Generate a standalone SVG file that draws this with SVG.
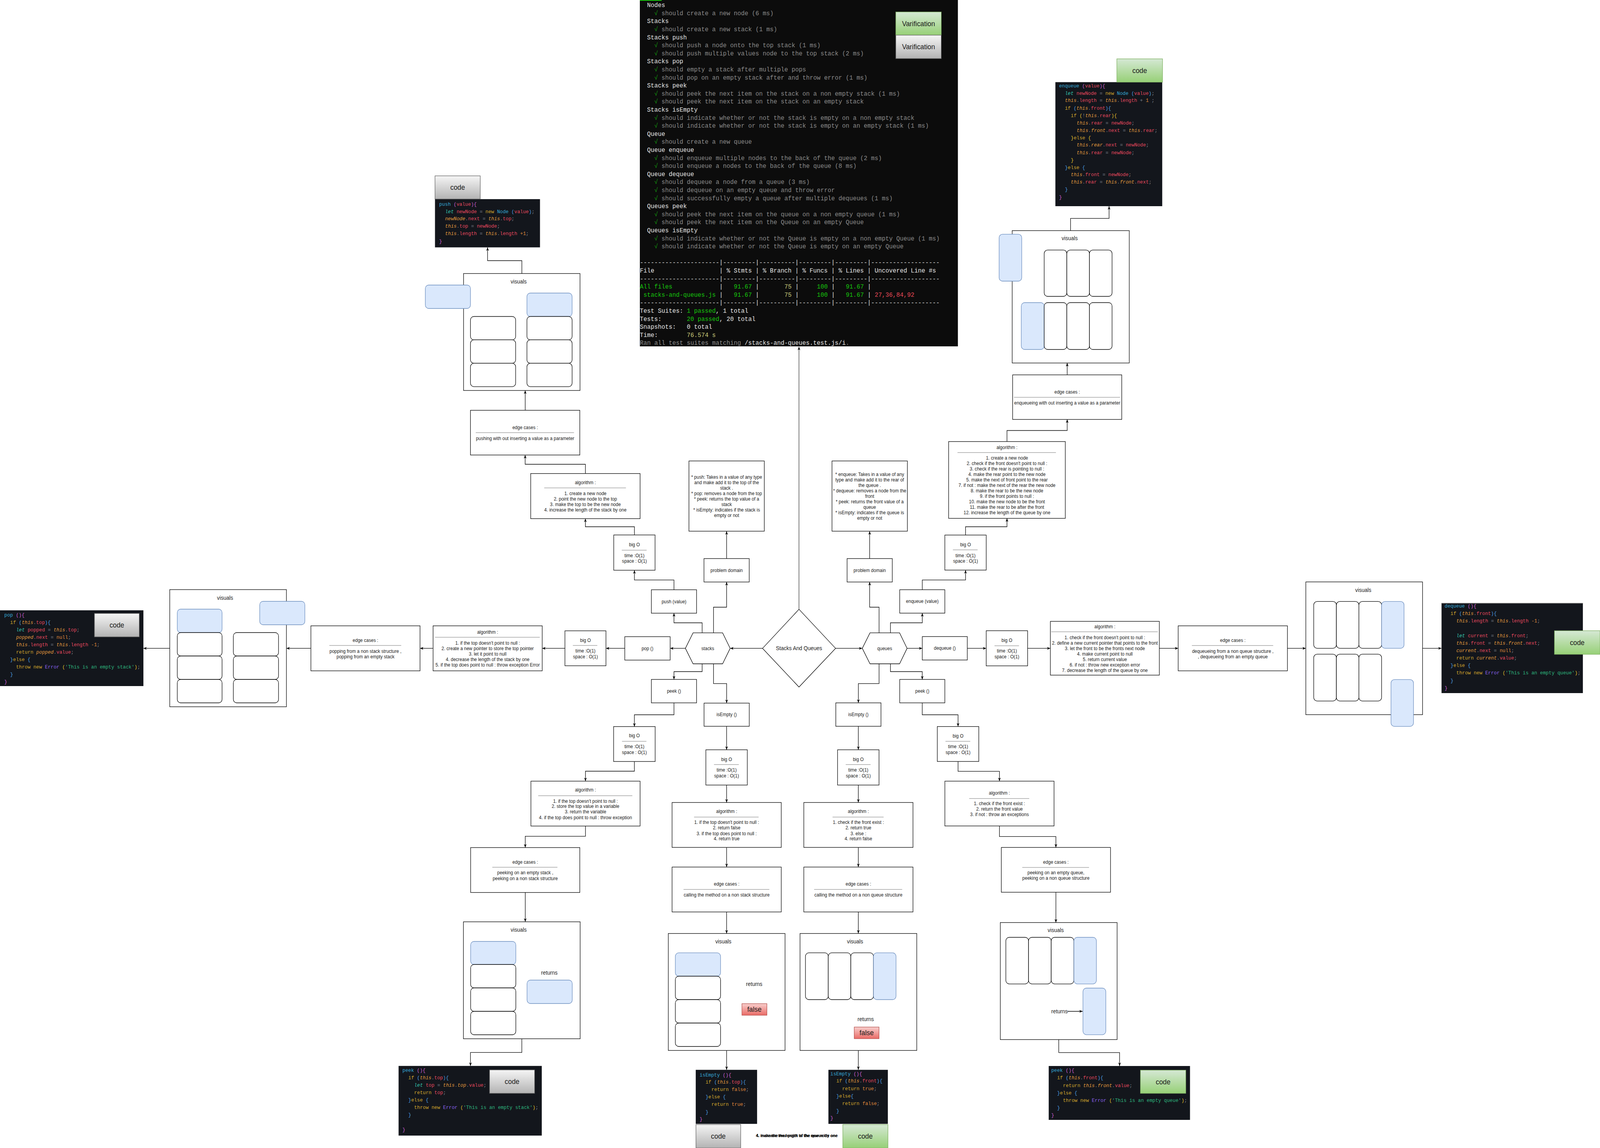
<svg xmlns="http://www.w3.org/2000/svg" width="4251" height="2940" viewBox="0 0 4251 2940" xml:space="preserve">
<style>
text{white-space:pre}
.bx{fill:#fff;stroke:#000;stroke-width:1.3}
.rw{fill:#fff;stroke:#000;stroke-width:1.3}
.bl{fill:#dae8fc;stroke:#6c8ebf;stroke-width:1.3}
.hr{stroke:#a3a3a3;stroke-width:1.5}
.t12{font-family:"Liberation Sans",Arial,sans-serif;font-size:12px;fill:#1a1a1a;text-anchor:middle}
.t14{font-family:"Liberation Sans",Arial,sans-serif;font-size:14px;fill:#1a1a1a;text-anchor:middle}
.t18{font-family:"Liberation Sans",Arial,sans-serif;font-size:18px;fill:#1a1a1a;text-anchor:middle}
.cn{fill:none;stroke:#000;stroke-width:1.3;marker-end:url(#ah)}
.cb{fill:#13161c}
.gbtn{fill:url(#gg);stroke:#666;stroke-width:1.3}
.grn{fill:url(#gr);stroke:#82b366;stroke-width:1.3}
.cd{font-family:"Liberation Mono","Courier New",monospace;font-size:12.8px;fill:#abb2bf}
.k{fill:#d4a72c}.f{fill:#35a9d9}.m{fill:#cf5fd6}.bb{fill:#4c9fe6}.y{fill:#e5c02a}.v{fill:#e8485e}
.i{fill:#e59a3c;font-style:italic}.l{fill:#35c9b0;font-style:italic}.o{fill:#7d838d}.n{fill:#e0883a}.s{fill:#2db57c}.e{fill:#8b62f3}
.tm{font-family:"Liberation Mono","DejaVu Sans Mono",monospace;font-size:16px}
.tw{fill:#e6e6e6}.tg{fill:#8a8a8a}.tc{fill:#13a10e}.tG{fill:#16c60c}.ty{fill:#c8c878}.tr{fill:#e74856}
</style>
<defs>
<marker id="ah" viewBox="0 0 10 10" refX="10" refY="5" markerWidth="9" markerHeight="9" markerUnits="userSpaceOnUse" orient="auto"><path d="M0,1 L10,5 L0,9 L3,5 z" fill="#000"/></marker>
<linearGradient id="gg" x1="0" y1="0" x2="0" y2="1"><stop offset="0" stop-color="#f5f5f5"/><stop offset="1" stop-color="#b3b3b3"/></linearGradient>
<linearGradient id="gr" x1="0" y1="0" x2="0" y2="1"><stop offset="0" stop-color="#d5e8d4"/><stop offset="1" stop-color="#97d077"/></linearGradient>
<linearGradient id="rd" x1="0" y1="0" x2="0" y2="1"><stop offset="0" stop-color="#f8cecc"/><stop offset="1" stop-color="#ea6b66"/></linearGradient>
</defs>
<rect width="4251" height="2940" fill="#fff"/>
<g id="diagram" transform="scale(0.963538,1)">

<g id="terminal">
<rect x="1700" y="0" width="845" height="887" fill="#0c0c0c"/>
<rect x="1700" y="0" width="58" height="2" fill="#16c60c"/>
<g class="tm">
<text x="1719.2" y="18.2" class="tw">Nodes</text>
<text x="1738.4" y="38.8"><tspan class="tc">√</tspan><tspan class="tg"> should create a new node (6 ms)</tspan></text>
<text x="1719.2" y="59.4" class="tw">Stacks</text>
<text x="1738.4" y="80"><tspan class="tc">√</tspan><tspan class="tg"> should create a new stack (1 ms)</tspan></text>
<text x="1719.2" y="100.6" class="tw">Stacks push</text>
<text x="1738.4" y="121.2"><tspan class="tc">√</tspan><tspan class="tg"> should push a node onto the top stack (1 ms)</tspan></text>
<text x="1738.4" y="141.8"><tspan class="tc">√</tspan><tspan class="tg"> should push multiple values node to the top stack (2 ms)</tspan></text>
<text x="1719.2" y="162.4" class="tw">Stacks pop</text>
<text x="1738.4" y="183"><tspan class="tc">√</tspan><tspan class="tg"> should empty a stack after multiple pops</tspan></text>
<text x="1738.4" y="203.6"><tspan class="tc">√</tspan><tspan class="tg"> should pop on an empty stack after and throw error (1 ms)</tspan></text>
<text x="1719.2" y="224.2" class="tw">Stacks peek</text>
<text x="1738.4" y="244.8"><tspan class="tc">√</tspan><tspan class="tg"> should peek the next item on the stack on a non empty stack (1 ms)</tspan></text>
<text x="1738.4" y="265.4"><tspan class="tc">√</tspan><tspan class="tg"> should peek the next item on the stack on an empty stack</tspan></text>
<text x="1719.2" y="286" class="tw">Stacks isEmpty</text>
<text x="1738.4" y="306.6"><tspan class="tc">√</tspan><tspan class="tg"> should indicate whether or not the stack is empty on a non empty stack</tspan></text>
<text x="1738.4" y="327.2"><tspan class="tc">√</tspan><tspan class="tg"> should indicate whether or not the stack is empty on an empty stack (1 ms)</tspan></text>
<text x="1719.2" y="347.8" class="tw">Queue</text>
<text x="1738.4" y="368.4"><tspan class="tc">√</tspan><tspan class="tg"> should create a new queue</tspan></text>
<text x="1719.2" y="389" class="tw">Queue enqueue</text>
<text x="1738.4" y="409.6"><tspan class="tc">√</tspan><tspan class="tg"> should enqueue multiple nodes to the back of the queue (2 ms)</tspan></text>
<text x="1738.4" y="430.2"><tspan class="tc">√</tspan><tspan class="tg"> should enqueue a nodes to the back of the queue (8 ms)</tspan></text>
<text x="1719.2" y="450.8" class="tw">Queue dequeue</text>
<text x="1738.4" y="471.4"><tspan class="tc">√</tspan><tspan class="tg"> should dequeue a node from a queue (3 ms)</tspan></text>
<text x="1738.4" y="492"><tspan class="tc">√</tspan><tspan class="tg"> should dequeue on an empty queue and throw error</tspan></text>
<text x="1738.4" y="512.6"><tspan class="tc">√</tspan><tspan class="tg"> should successfully empty a queue after multiple dequeues (1 ms)</tspan></text>
<text x="1719.2" y="533.2" class="tw">Queues peek</text>
<text x="1738.4" y="553.8"><tspan class="tc">√</tspan><tspan class="tg"> should peek the next item on the queue on a non empty queue (1 ms)</tspan></text>
<text x="1738.4" y="574.4"><tspan class="tc">√</tspan><tspan class="tg"> should peek the next item on the Queue on an empty Queue</tspan></text>
<text x="1719.2" y="595" class="tw">Queues isEmpty</text>
<text x="1738.4" y="615.6"><tspan class="tc">√</tspan><tspan class="tg"> should indicate whether or not the Queue is empty on a non empty Queue (1 ms)</tspan></text>
<text x="1738.4" y="636.2"><tspan class="tc">√</tspan><tspan class="tg"> should indicate whether or not the Queue is empty on an empty Queue</tspan></text>
<text x="1700" y="677.4" class="tw">----------------------|---------|----------|---------|---------|-------------------</text>
<text x="1700" y="698" class="tw">File                  | % Stmts | % Branch | % Funcs | % Lines | Uncovered Line #s </text>
<text x="1700" y="718.6" class="tw">----------------------|---------|----------|---------|---------|-------------------</text>
<text x="1700" y="739.2"><tspan class="tG">All files             </tspan><tspan class="tw">|</tspan><tspan class="tG">   91.67 </tspan><tspan class="tw">|</tspan><tspan class="ty">       75 </tspan><tspan class="tw">|</tspan><tspan class="tG">     100 </tspan><tspan class="tw">|</tspan><tspan class="tG">   91.67 </tspan><tspan class="tw">|</tspan></text>
<text x="1700" y="759.8"><tspan class="tG"> stacks-and-queues.js </tspan><tspan class="tw">|</tspan><tspan class="tG">   91.67 </tspan><tspan class="tw">|</tspan><tspan class="ty">       75 </tspan><tspan class="tw">|</tspan><tspan class="tG">     100 </tspan><tspan class="tw">|</tspan><tspan class="tG">   91.67 </tspan><tspan class="tw">| </tspan><tspan class="tr">27,36,84,92</tspan></text>
<text x="1700" y="780.4" class="tw">----------------------|---------|----------|---------|---------|-------------------</text>
<text x="1700" y="801"><tspan class="tw">Test Suites: </tspan><tspan class="tG">1 passed</tspan><tspan class="tw">, 1 total</tspan></text>
<text x="1700" y="821.6"><tspan class="tw">Tests:       </tspan><tspan class="tG">20 passed</tspan><tspan class="tw">, 20 total</tspan></text>
<text x="1700" y="842.2" class="tw">Snapshots:   0 total</text>
<text x="1700" y="862.8"><tspan class="tw">Time:        </tspan><tspan class="ty">76.574 s</tspan></text>
<text x="1700" y="883.4"><tspan class="tg">Ran all test suites matching </tspan><tspan class="tw">/stacks-and-queues.test.js/i</tspan><tspan class="tg">.</tspan></text>
</g>
</g>
<g id="varification-green"><rect x="2380" y="30.7" width="120.8" height="59.3" class="grn"/><text x="2440.4" y="66.6" class="t18">Varification</text></g>
<g id="varification-gray"><rect x="2380" y="90" width="120.8" height="60" class="gbtn"/><text x="2440.4" y="126.3" class="t18">Varification</text></g>

<g id="connectors">
<path class="cn" d="M2026,1660.4 H1940"/>
<path class="cn" d="M2220,1660.4 H2291"/>
<path class="cn" style="stroke:#555;stroke-width:1.6" d="M2122.8,1560.4 V888"/>
<path class="cn" d="M1821,1660.4 H1780.5"/>
<path class="cn" d="M1660,1660.4 H1610"/>
<path class="cn" d="M1501,1660.4 H1440.6"/>
<path class="cn" d="M1150.6,1660.4 H1116"/>
<path class="cn" d="M826,1660.4 H761"/>
<path class="cn" d="M451,1660.4 H381"/>
<path class="cn" d="M1865.5,1620.7 V1595 H1790.7 V1570.3"/>
<path class="cn" d="M1790.7,1510.4 V1485.4 H1685.6 V1460.4"/>
<path class="cn" d="M1685.6,1370 V1349 H1555.3 V1328.3"/>
<path class="cn" d="M1555.3,1212.7 V1189 H1395.3 V1165.3"/>
<path class="cn" d="M1395.4,1050.7 V1000"/>
<path class="cn" d="M1386.5,700.5 V667.5 H1295.4 V633.5"/>
<path class="cn" d="M1895.7,1620.7 V1555 H1930.5 V1490.4"/>
<path class="cn" d="M1930.5,1430.5 V1360.4"/>
<path class="cn" d="M1865.5,1700 V1720 H1790.7 V1740"/>
<path class="cn" d="M1790.7,1800 V1830.5 H1685.5 V1860.7"/>
<path class="cn" d="M1685.5,1950.2 V1975 H1555.5 V2000.5"/>
<path class="cn" d="M1555.5,2115.5 V2141.6 H1395.5 V2170.6"/>
<path class="cn" d="M1395.5,2285.6 V2360.7"/>
<path class="cn" d="M1386.4,2660.3 V2695.4 H1250 V2729.8"/>
<path class="cn" d="M1895.7,1700 V1750.6 H1930.6 V1800.6"/>
<path class="cn" d="M1930.5,1860 V1920.2"/>
<path class="cn" d="M1930.5,2010.5 V2055.2"/>
<path class="cn" d="M1930.5,2170.2 V2220.5"/>
<path class="cn" d="M1930.5,2335.5 V2390.6"/>
<path class="cn" d="M1930.5,2690.2 V2739.8"/>
<path class="cn" d="M2335.6,1620.7 V1555 H2310.6 V1490.4"/>
<path class="cn" d="M2310.6,1430.5 V1360.4"/>
<path class="cn" d="M2365.8,1620.7 V1595 H2450.4 V1570.3"/>
<path class="cn" d="M2450.4,1510.3 V1485.3 H2565.3 V1460"/>
<path class="cn" d="M2565.3,1370.3 V1349 H2675.4 V1327.5"/>
<path class="cn" d="M2675.4,1130.8 V1102.5 H2835.4 V1074.2"/>
<path class="cn" d="M2835.4,960 V929.6"/>
<path class="cn" d="M2844.3,590.6 V559.3 H2946.7 V528"/>
<path class="cn" d="M2410,1660.4 H2450.4"/>
<path class="cn" d="M2570,1660.4 H2620.2"/>
<path class="cn" d="M2730.2,1660.4 H2790.7"/>
<path class="cn" d="M3080.2,1660.4 H3130.3"/>
<path class="cn" d="M3420.5,1660.4 H3469.4"/>
<path class="cn" d="M3779.5,1660.4 H3830"/>
<path class="cn" d="M2335.6,1700 V1750.6 H2280.6 V1800"/>
<path class="cn" d="M2280.5,1860 V1920.2"/>
<path class="cn" d="M2280.5,2010.5 V2055.2"/>
<path class="cn" d="M2280.5,2170.2 V2220.5"/>
<path class="cn" d="M2280.5,2335.5 V2390.6"/>
<path class="cn" d="M2280.5,2690.2 V2739.8"/>
<path class="cn" d="M2365.8,1700 V1720 H2450.3 V1740"/>
<path class="cn" d="M2450.3,1800 V1830.5 H2545.4 V1860.6"/>
<path class="cn" d="M2545.4,1950.1 V1975.3 H2655.4 V2000.5"/>
<path class="cn" d="M2655.4,2115.3 V2142.4 H2805.4 V2170.3"/>
<path class="cn" d="M2805.4,2285 V2362.6"/>
<path class="cn" d="M2813,2662.4 V2695.6 H2974.6 V2730"/>
</g>

<g id="center-diamond"><polygon points="2122.8,1560.4 2220,1660.4 2122.8,1759.5 2026,1660.4" class="bx"/><text x="2122.8" y="1665.2" class="t14">Stacks And Queues</text></g>
<g id="hex-stacks"><polygon points="1821,1660.4 1841.4,1620.7 1919.8,1620.7 1940,1660.4 1919.8,1700 1841.4,1700" class="bx"/><text x="1880.5" y="1664.6" class="t12">stacks</text></g>
<g id="hex-queues"><polygon points="2291,1660.4 2311.5,1620.7 2390,1620.7 2410,1660.4 2390,1700 2311.5,1700" class="bx"/><text x="2350.5" y="1664.6" class="t12">queues</text></g>

<g id="pop"><rect x="1660" y="1630.5" width="120.5" height="60" class="bx"/><text x="1720.2" y="1664.6" class="t12">pop ()</text></g>
<g id="push"><rect x="1730.6" y="1510.4" width="120.1" height="60" class="bx"/><text x="1790.7" y="1544.6" class="t12">push (value)</text></g>
<g id="problem-domain-stacks"><rect x="1870.4" y="1430.5" width="120.2" height="60" class="bx"/><text x="1930.5" y="1464.7" class="t12">problem domain</text></g>
<g id="peek-stacks"><rect x="1730.6" y="1740" width="120.1" height="60" class="bx"/><text x="1790.7" y="1774.2" class="t12">peek ()</text></g>
<g id="isempty-stacks"><rect x="1870.6" y="1800.6" width="120.1" height="59.4" class="bx"/><text x="1930.6" y="1834.5" class="t12">isEmpty ()</text></g>
<g id="problem-domain-queues"><rect x="2250.6" y="1430.5" width="120.1" height="60" class="bx"/><text x="2310.6" y="1464.7" class="t12">problem domain</text></g>
<g id="enqueue"><rect x="2390.5" y="1510.3" width="119.8" height="60" class="bx"/><text x="2450.4" y="1544.5" class="t12">enqueue (value)</text></g>
<g id="dequeue"><rect x="2450.4" y="1630.3" width="119.6" height="60" class="bx"/><text x="2510.2" y="1664.5" class="t12">dequeue ()</text></g>
<g id="isempty-queues"><rect x="2220.6" y="1800" width="120.1" height="60" class="bx"/><text x="2280.6" y="1834.2" class="t12">isEmpty ()</text></g>
<g id="peek-queues"><rect x="2390.5" y="1740" width="119.8" height="60" class="bx"/><text x="2450.4" y="1774.2" class="t12">peek ()</text></g>

<g id="desc-stacks"><rect x="1830.4" y="1180.5" width="200.2" height="179.9" class="bx"/>
<text x="1930.5" y="1226.2" class="t12">* push: Takes in a value of any type</text>
<text x="1930.5" y="1240.2" class="t12">and make add it to the top of the</text>
<text x="1930.5" y="1254.2" class="t12">stack .</text>
<text x="1930.5" y="1268.2" class="t12">* pop: removes a node from the top</text>
<text x="1930.5" y="1282.2" class="t12">* peek: returns the top value of a</text>
<text x="1930.5" y="1296.2" class="t12">stack</text>
<text x="1930.5" y="1310.2" class="t12">* isEmpty: indicates if the stack is</text>
<text x="1930.5" y="1324.2" class="t12">empty or not</text></g>
<g id="desc-queues"><rect x="2210.5" y="1180.5" width="200.3" height="179.9" class="bx"/>
<text x="2310.6" y="1219.2" class="t12">* enqueue: Takes in a value of any</text>
<text x="2310.6" y="1233.2" class="t12">type and make add it to the rear of</text>
<text x="2310.6" y="1247.2" class="t12">the queue .</text>
<text x="2310.6" y="1261.2" class="t12">* dequeue: removes a node from the</text>
<text x="2310.6" y="1275.2" class="t12">front</text>
<text x="2310.6" y="1289.2" class="t12">* peek: returns the front value of a</text>
<text x="2310.6" y="1303.2" class="t12">queue</text>
<text x="2310.6" y="1317.2" class="t12">* isEmpty: indicates if the queue is</text>
<text x="2310.6" y="1331.2" class="t12">empty or not</text></g>

<g id="bigo-pop"><rect x="1501" y="1615.5" width="109" height="89.5" class="bx"/><text x="1555.5" y="1644.2" class="t12">big O</text><line x1="1522" y1="1653" x2="1587" y2="1653" class="hr"/><text x="1555.5" y="1671.2" class="t12">time :O(1)</text><text x="1555.5" y="1685.8" class="t12">space : O(1)</text></g>
<g id="bigo-push"><rect x="1630.7" y="1370" width="109.7" height="90.4" class="bx"/><text x="1685.6" y="1399" class="t12">big O</text><line x1="1652" y1="1409" x2="1718" y2="1409" class="hr"/><text x="1685.6" y="1426.7" class="t12">time :O(1)</text><text x="1685.6" y="1441.2" class="t12">space : O(1)</text></g>
<g id="bigo-peek-stacks"><rect x="1630.3" y="1860.7" width="110.4" height="89.5" class="bx"/><text x="1685.5" y="1888.2" class="t12">big O</text><line x1="1652.6" y1="1898.5" x2="1717.4" y2="1898.5" class="hr"/><text x="1685.5" y="1916.5" class="t12">time :O(1)</text><text x="1685.5" y="1931" class="t12">space : O(1)</text></g>
<g id="bigo-isempty-stacks"><rect x="1875.4" y="1920.2" width="110.1" height="90.3" class="bx"/><text x="1930.5" y="1948.6" class="t12">big O</text><line x1="1897" y1="1958" x2="1963" y2="1958" class="hr"/><text x="1930.5" y="1976.2" class="t12">time :O(1)</text><text x="1930.5" y="1990.6" class="t12">space : O(1)</text></g>
<g id="bigo-enqueue"><rect x="2510.3" y="1370.3" width="109.9" height="89.7" class="bx"/><text x="2565.3" y="1398.9" class="t12">big O</text><line x1="2531.7" y1="1408.3" x2="2597.4" y2="1408.3" class="hr"/><text x="2565.3" y="1426.9" class="t12">time :O(1)</text><text x="2565.3" y="1441.2" class="t12">space : O(1)</text></g>
<g id="bigo-dequeue"><rect x="2620.2" y="1615.3" width="110" height="90" class="bx"/><text x="2675.2" y="1644.2" class="t12">big O</text><line x1="2642.3" y1="1653.7" x2="2707.4" y2="1653.7" class="hr"/><text x="2675.2" y="1671.5" class="t12">time :O(1)</text><text x="2675.2" y="1685.9" class="t12">space : O(1)</text></g>
<g id="bigo-isempty-queues"><rect x="2225.3" y="1920.2" width="110.2" height="90.3" class="bx"/><text x="2280.4" y="1948.6" class="t12">big O</text><line x1="2247" y1="1958" x2="2313" y2="1958" class="hr"/><text x="2280.4" y="1976.2" class="t12">time :O(1)</text><text x="2280.4" y="1990.6" class="t12">space : O(1)</text></g>
<g id="bigo-peek-queues"><rect x="2490.3" y="1860.6" width="110.2" height="89.5" class="bx"/><text x="2545.4" y="1888.6" class="t12">big O</text><line x1="2512" y1="1898.4" x2="2577.8" y2="1898.4" class="hr"/><text x="2545.4" y="1916.5" class="t12">time :O(1)</text><text x="2545.4" y="1931.1" class="t12">space : O(1)</text></g>

<g id="algorithm-pop"><rect x="1150.6" y="1602.7" width="290" height="115.3" class="bx"/><text x="1295.6" y="1622.9" class="t12">algorithm :</text><line x1="1156" y1="1632" x2="1434" y2="1632" class="hr"/>
<text x="1295.6" y="1650.6" class="t12">1. if the top doesn't point to null :</text>
<text x="1295.6" y="1664.7" class="t12">2. create a new pointer to store the top pointer</text>
<text x="1295.6" y="1678.9" class="t12">3. let it point to null</text>
<text x="1295.6" y="1692.7" class="t12">4. decrease the length of the stack by one</text>
<text x="1295.6" y="1706.9" class="t12">5. if the top does point to null : throw exception Error</text></g>
<g id="edge-pop"><rect x="826" y="1602.7" width="290" height="115.3" class="bx"/><text x="971" y="1644" class="t12">edge cases :</text><line x1="875" y1="1653" x2="1066" y2="1653" class="hr"/>
<text x="971" y="1671.7" class="t12">popping from a non stack structure ,</text>
<text x="971" y="1685.8" class="t12">popping from an empty stack</text></g>
<g id="algorithm-push"><rect x="1410" y="1212.7" width="290.6" height="115.6" class="bx"/><text x="1555.3" y="1240.2" class="t12">algorithm :</text><line x1="1446" y1="1249.4" x2="1663" y2="1249.4" class="hr"/>
<text x="1555.3" y="1268.2" class="t12">1. create a new node</text>
<text x="1555.3" y="1282" class="t12">2. point the new node to the top</text>
<text x="1555.3" y="1295.8" class="t12">3. make the top to be the new node</text>
<text x="1555.3" y="1309.6" class="t12">4. increase the length of the stack by one</text></g>
<g id="edge-push"><rect x="1250" y="1050.7" width="290.5" height="114.6" class="bx"/><text x="1395.3" y="1099.2" class="t12">edge cases :</text><line x1="1264" y1="1108" x2="1525" y2="1108" class="hr"/>
<text x="1395.3" y="1127.2" class="t12">pushing with out inserting a value as a parameter</text></g>
<g id="algorithm-peek-stacks"><rect x="1410.6" y="2000.5" width="290" height="115" class="bx"/><text x="1555.6" y="2027.2" class="t12">algorithm :</text><line x1="1430" y1="2037.7" x2="1680" y2="2037.7" class="hr"/>
<text x="1555.6" y="2055.6" class="t12">1. if the top doesn't point to null :</text>
<text x="1555.6" y="2069.4" class="t12">2. store the top value in a variable</text>
<text x="1555.6" y="2083.2" class="t12">3. return the variable</text>
<text x="1555.6" y="2097.6" class="t12">4. if the top does point to null : throw exception</text></g>
<g id="edge-peek-stacks"><rect x="1250.4" y="2170.6" width="290.1" height="115" class="bx"/><text x="1395.5" y="2212" class="t12">edge cases :</text><line x1="1308" y1="2220.9" x2="1481" y2="2220.9" class="hr"/>
<text x="1395.5" y="2239.5" class="t12">peeking on an empty stack ,</text>
<text x="1395.5" y="2254" class="t12">peeking on a non stack structure</text></g>
<g id="algorithm-isempty-stacks"><rect x="1785.6" y="2055.2" width="290.1" height="115" class="bx"/><text x="1930.6" y="2082.2" class="t12">algorithm :</text><line x1="1844" y1="2092.4" x2="2015.5" y2="2092.4" class="hr"/>
<text x="1930.6" y="2110.4" class="t12">1. if the top doesn't point to null :</text>
<text x="1930.6" y="2124.2" class="t12">2. return false</text>
<text x="1930.6" y="2138.6" class="t12">3. if the top does point to null :</text>
<text x="1930.6" y="2152.4" class="t12">4. return true</text></g>
<g id="edge-isempty-stacks"><rect x="1785.6" y="2220.5" width="290.1" height="115" class="bx"/><text x="1930.6" y="2268.2" class="t12">edge cases :</text><line x1="1816" y1="2277.7" x2="2044" y2="2277.7" class="hr"/>
<text x="1930.6" y="2296.2" class="t12">calling the method on a non stack structure</text></g>
<g id="algorithm-enqueue"><rect x="2520.4" y="1130.8" width="310" height="196.7" class="bx"/><text x="2675.4" y="1149.6" class="t12">algorithm :</text><line x1="2544" y1="1159" x2="2805.5" y2="1159" class="hr"/>
<text x="2675.4" y="1177.2" class="t12">1. create a new node</text>
<text x="2675.4" y="1191.2" class="t12">2. check if the front doesn't point to null :</text>
<text x="2675.4" y="1205.2" class="t12">3. check if the rear is pointing to null :</text>
<text x="2675.4" y="1219.2" class="t12">4. make the rear point to the new node</text>
<text x="2675.4" y="1233.2" class="t12">5. make the next of front point to the rear</text>
<text x="2675.4" y="1247.2" class="t12">7. if not : make the next of the rear the new node</text>
<text x="2675.4" y="1261.2" class="t12">8. make the rear to be the new node</text>
<text x="2675.4" y="1275.2" class="t12">9. if the front points to null :</text>
<text x="2675.4" y="1289.2" class="t12">10. make the new node to be the front</text>
<text x="2675.4" y="1303.2" class="t12">11. make the rear to be after the front</text>
<text x="2675.4" y="1317.2" class="t12">12. increase the length of the queue by one</text></g>
<g id="edge-enqueue"><rect x="2690.5" y="960" width="289.8" height="114.2" class="bx"/><text x="2835.4" y="1008" class="t12">edge cases :</text><line x1="2694" y1="1017.6" x2="2975.6" y2="1017.6" class="hr"/>
<text x="2835.4" y="1036.2" class="t12">enqueueing with out inserting a value as a parameter</text></g>
<g id="algorithm-dequeue"><rect x="2790.7" y="1591.3" width="289.5" height="137.7" class="bx"/><text x="2935.5" y="1609.2" class="t12">algorithm :</text><line x1="2793" y1="1618" x2="3076" y2="1618" class="hr"/>
<text x="2935.5" y="1636.9" class="t12">1. check if the front doesn't point to null :</text>
<text x="2935.5" y="1650.9" class="t12">2. define a new current pointer that points to the front</text>
<text x="2935.5" y="1664.9" class="t12">3. let the front to be the fronts next node</text>
<text x="2935.5" y="1678.9" class="t12">4. make current point to null</text>
<text x="2935.5" y="1692.9" class="t12">5. return current value</text>
<text x="2935.5" y="1706.9" class="t12">6. if not : throw new exception error</text>
<text x="2935.5" y="1720.9" class="t12">7. decrease the length of the queue by one</text></g>
<g id="edge-dequeue"><rect x="3130.3" y="1602.7" width="290.2" height="115.3" class="bx"/><text x="3275.4" y="1644.2" class="t12">edge cases :</text><line x1="3166.7" y1="1653.3" x2="3382.7" y2="1653.3" class="hr"/>
<text x="3275.4" y="1671.9" class="t12">dequeueing from a non queue structure ,</text>
<text x="3275.4" y="1685.9" class="t12">, dequeueing from an empty queue</text></g>
<g id="algorithm-isempty-queues"><rect x="2135.6" y="2055.2" width="290.1" height="115" class="bx"/><text x="2280.6" y="2082.2" class="t12">algorithm :</text><line x1="2212" y1="2092.4" x2="2347.6" y2="2092.4" class="hr"/>
<text x="2280.6" y="2110.4" class="t12">1. check if the front exist :</text>
<text x="2280.6" y="2124.2" class="t12">2. return true</text>
<text x="2280.6" y="2138.6" class="t12">3. else :</text>
<text x="2280.6" y="2152.4" class="t12">4. return false</text></g>
<g id="edge-isempty-queues"><rect x="2135.6" y="2220.5" width="290.1" height="115" class="bx"/><text x="2280.6" y="2268.2" class="t12">edge cases :</text><line x1="2163" y1="2277.7" x2="2397" y2="2277.7" class="hr"/>
<text x="2280.6" y="2296.2" class="t12">calling the method on a non queue structure</text></g>
<g id="algorithm-peek-queues"><rect x="2510.4" y="2000.5" width="290.1" height="114.8" class="bx"/><text x="2655.4" y="2034.6" class="t12">algorithm :</text><line x1="2575" y1="2045" x2="2734.5" y2="2045" class="hr"/>
<text x="2655.4" y="2062.4" class="t12">1. check if the front exist :</text>
<text x="2655.4" y="2076.3" class="t12">2. return the front value</text>
<text x="2655.4" y="2090.2" class="t12">3. if not : throw an exceptions</text></g>
<g id="edge-peek-queues"><rect x="2660.4" y="2170.3" width="290.1" height="114.7" class="bx"/><text x="2805.4" y="2211.6" class="t12">edge cases :</text><line x1="2716" y1="2221.4" x2="2893.4" y2="2221.4" class="hr"/>
<text x="2805.4" y="2239.5" class="t12">peeking on an empty queue,</text>
<text x="2805.4" y="2253.4" class="t12">peeking on a non queue structure</text></g>

<g id="visuals-pop"><rect x="451" y="1510" width="310" height="300" class="bx"/><text x="598" y="1536" class="t14">visuals</text>
<rect x="471" y="1560" width="119" height="60" rx="9" class="bl"/><rect x="690" y="1540" width="120" height="60" rx="9" class="bl"/>
<rect x="471" y="1620" width="119" height="60" rx="9" class="rw"/><rect x="471" y="1680" width="119" height="60" rx="9" class="rw"/><rect x="471" y="1740" width="119" height="60" rx="9" class="rw"/>
<rect x="620" y="1620" width="120" height="60" rx="9" class="rw"/><rect x="620" y="1680" width="120" height="60" rx="9" class="rw"/><rect x="620" y="1740" width="120" height="60" rx="9" class="rw"/></g>
<g id="visuals-push"><rect x="1231.6" y="700.5" width="309.4" height="299.5" class="bx"/><text x="1378" y="726" class="t14">visuals</text>
<rect x="1130" y="730" width="120" height="60" rx="9" class="bl"/><rect x="1400" y="750.5" width="120" height="60" rx="9" class="bl"/>
<rect x="1250" y="810.5" width="120" height="60" rx="9" class="rw"/><rect x="1250" y="870.4" width="120" height="60" rx="9" class="rw"/><rect x="1250" y="930.3" width="120" height="60" rx="9" class="rw"/>
<rect x="1400" y="810.5" width="120" height="60" rx="9" class="rw"/><rect x="1400" y="870.4" width="120" height="60" rx="9" class="rw"/><rect x="1400" y="930.3" width="120" height="60" rx="9" class="rw"/></g>
<g id="visuals-peek-stacks"><rect x="1231.3" y="2360.7" width="310.1" height="299.6" class="bx"/><text x="1378" y="2385.6" class="t14">visuals</text>
<rect x="1250.4" y="2411" width="120.1" height="59" rx="9" class="bl"/>
<rect x="1250.4" y="2470" width="120.1" height="60" rx="9" class="rw"/><rect x="1250.4" y="2530" width="120.1" height="60" rx="9" class="rw"/><rect x="1250.4" y="2590" width="120.1" height="60" rx="9" class="rw"/>
<text x="1459.5" y="2495.8" class="t14">returns</text><rect x="1400.3" y="2510" width="120.1" height="60" rx="9" class="bl"/></g>
<g id="visuals-isempty-stacks"><rect x="1775.6" y="2390.6" width="310.1" height="299.6" class="bx"/><text x="1921.8" y="2415.6" class="t14">visuals</text>
<rect x="1794.3" y="2440.2" width="120.1" height="59.8" rx="9" class="bl"/>
<rect x="1794.3" y="2500" width="120.1" height="60" rx="9" class="rw"/><rect x="1794.3" y="2560" width="120.1" height="60" rx="9" class="rw"/><rect x="1794.3" y="2620" width="120.1" height="60" rx="9" class="rw"/>
<text x="2003.7" y="2525" class="t14">returns</text><rect x="1971.2" y="2570.4" width="66.4" height="29.6" fill="url(#rd)" stroke="#b85450" stroke-width="1.3"/><text x="2004.4" y="2591.5" class="t18">false</text></g>
<g id="visuals-isempty-queues"><rect x="2125.6" y="2390.6" width="310.1" height="299.6" class="bx"/><text x="2271.7" y="2415.6" class="t14">visuals</text>
<rect x="2140" y="2440.2" width="60.6" height="119.8" rx="9" class="rw"/><rect x="2200.6" y="2440.2" width="59.9" height="119.8" rx="9" class="rw"/><rect x="2260.5" y="2440.2" width="60.2" height="119.8" rx="9" class="rw"/><rect x="2320.7" y="2440.2" width="59.9" height="119.8" rx="9" class="bl"/>
<text x="2300" y="2615.3" class="t14">returns</text><rect x="2269.6" y="2630.3" width="65.9" height="29.7" fill="url(#rd)" stroke="#b85450" stroke-width="1.3"/><text x="2302.5" y="2651.4" class="t18">false</text></g>
<g id="visuals-peek-queues"><rect x="2657.7" y="2362.6" width="310.3" height="299.8" class="bx"/><text x="2805" y="2387.5" class="t14">visuals</text>
<rect x="2672.4" y="2400.5" width="60.3" height="119.3" rx="9" class="rw"/><rect x="2732.7" y="2400.5" width="60.2" height="119.3" rx="9" class="rw"/><rect x="2792.9" y="2400.5" width="60.3" height="119.3" rx="9" class="rw"/><rect x="2853.2" y="2400.5" width="59.8" height="119.3" rx="9" class="bl"/>
<rect x="2877.3" y="2530.5" width="60.7" height="119.3" rx="9" class="bl"/>
<text x="2814.8" y="2595" class="t14">returns</text><path class="cn" d="M2836,2590 H2876.4"/></g>
<g id="visuals-enqueue"><rect x="2689.3" y="590.6" width="311" height="339" class="bx"/><text x="2842" y="615.5" class="t14">visuals</text>
<rect x="2654.5" y="599.8" width="60.1" height="120.2" rx="9" class="bl"/>
<rect x="2774.3" y="640.4" width="60.1" height="118.6" rx="9" class="rw"/><rect x="2834.4" y="640.4" width="60.1" height="118.6" rx="9" class="rw"/><rect x="2894.5" y="640.4" width="60.1" height="118.6" rx="9" class="rw"/>
<rect x="2713.4" y="775" width="60.9" height="120" rx="9" class="bl"/><rect x="2774.3" y="775" width="60.1" height="120" rx="9" class="rw"/><rect x="2834.4" y="775" width="60.1" height="120" rx="9" class="rw"/><rect x="2894.5" y="775" width="60.1" height="120" rx="9" class="rw"/></g>
<g id="visuals-dequeue"><rect x="3469.4" y="1490.3" width="310.1" height="340" class="bx"/><text x="3622" y="1516.3" class="t14">visuals</text>
<rect x="3490.4" y="1540.3" width="60.2" height="120" rx="9" class="rw"/><rect x="3550.6" y="1540.3" width="59.8" height="120" rx="9" class="rw"/><rect x="3610.4" y="1540.3" width="60.3" height="120" rx="9" class="rw"/><rect x="3670.7" y="1540.3" width="59.7" height="120" rx="9" class="bl"/>
<rect x="3490.4" y="1675.3" width="60.2" height="120" rx="9" class="rw"/><rect x="3550.6" y="1675.3" width="59.8" height="120" rx="9" class="rw"/><rect x="3610.4" y="1675.3" width="60.3" height="120" rx="9" class="rw"/>
<rect x="3695.7" y="1740.3" width="59.8" height="120" rx="9" class="bl"/></g>

<g id="code-pop" class="cd"><rect x="0" y="1563" width="381" height="194" class="cb"/>
<text x="11.5" y="1579.5"><tspan class="f">pop</tspan> <tspan class="m">(){</tspan></text>
<text x="27.1" y="1598.5"><tspan class="k">if</tspan> <tspan class="bb">(</tspan><tspan class="i">this</tspan><tspan class="o">.</tspan><tspan class="v">top</tspan><tspan class="bb">){</tspan></text>
<text x="42.7" y="1617.5"><tspan class="l">let</tspan> <tspan class="v">popped</tspan> <tspan class="o">=</tspan> <tspan class="i">this</tspan><tspan class="o">.</tspan><tspan class="v">top</tspan><tspan class="o">;</tspan></text>
<text x="42.7" y="1636.5"><tspan class="i">popped</tspan><tspan class="o">.</tspan><tspan class="v">next</tspan> <tspan class="o">=</tspan> <tspan class="n">null</tspan><tspan class="o">;</tspan></text>
<text x="42.7" y="1655.5"><tspan class="i">this</tspan><tspan class="o">.</tspan><tspan class="v">length</tspan> <tspan class="o">=</tspan> <tspan class="i">this</tspan><tspan class="o">.</tspan><tspan class="v">length</tspan> <tspan class="n">-1</tspan><tspan class="o">;</tspan></text>
<text x="42.7" y="1674.5"><tspan class="k">return</tspan> <tspan class="i">popped</tspan><tspan class="o">.</tspan><tspan class="v">value</tspan><tspan class="o">;</tspan></text>
<text x="27.1" y="1693.5"><tspan class="bb">}</tspan><tspan class="k">else</tspan> <tspan class="bb">{</tspan></text>
<text x="42.7" y="1712.5"><tspan class="k">throw new</tspan> <tspan class="e">Error</tspan> <tspan class="y">(</tspan><tspan class="s">'This is an empty stack'</tspan><tspan class="y">)</tspan><tspan class="o">;</tspan></text>
<text x="27.1" y="1731.5" class="bb">}</text>
<text x="11.5" y="1750.5" class="m">}</text></g>
<g id="button-code-pop"><rect x="251" y="1571" width="119" height="60" class="gbtn"/><text x="310.5" y="1607.3" class="t18">code</text></g>

<g id="code-push" class="cd"><rect x="1155.7" y="510" width="279" height="123.5" class="cb"/>
<text x="1166.9" y="527.1"><tspan class="f">push</tspan> <tspan class="m">(</tspan><tspan class="v">value</tspan><tspan class="m">){</tspan></text>
<text x="1182.5" y="546"><tspan class="l">let</tspan> <tspan class="v">newNode</tspan> <tspan class="o">=</tspan> <tspan class="k">new</tspan> <tspan class="f">Node</tspan> <tspan class="bb">(</tspan><tspan class="v">value</tspan><tspan class="bb">)</tspan><tspan class="o">;</tspan></text>
<text x="1182.5" y="564.5"><tspan class="i">newNode</tspan><tspan class="o">.</tspan><tspan class="v">next</tspan> <tspan class="o">=</tspan> <tspan class="i">this</tspan><tspan class="o">.</tspan><tspan class="v">top</tspan><tspan class="o">;</tspan></text>
<text x="1182.5" y="583.5"><tspan class="i">this</tspan><tspan class="o">.</tspan><tspan class="v">top</tspan> <tspan class="o">=</tspan> <tspan class="v">newNode</tspan><tspan class="o">;</tspan></text>
<text x="1182.5" y="602.5"><tspan class="i">this</tspan><tspan class="o">.</tspan><tspan class="v">length</tspan> <tspan class="o">=</tspan> <tspan class="i">this</tspan><tspan class="o">.</tspan><tspan class="v">length</tspan> <tspan class="n">+1</tspan><tspan class="o">;</tspan></text>
<text x="1166.9" y="622.5" class="m">}</text></g>
<g id="button-code-push"><rect x="1155.7" y="450.4" width="120.3" height="59.4" class="gbtn"/><text x="1215.9" y="486.4" class="t18">code</text></g>

<g id="code-peek-stacks" class="cd"><rect x="1059" y="2729.8" width="380.4" height="178.4" class="cb"/>
<text x="1069.3" y="2745.3"><tspan class="f">peek</tspan> <tspan class="m">(){</tspan></text>
<text x="1084.9" y="2763.9"><tspan class="k">if</tspan> <tspan class="bb">(</tspan><tspan class="i">this</tspan><tspan class="o">.</tspan><tspan class="v">top</tspan><tspan class="bb">){</tspan></text>
<text x="1100.5" y="2783.2"><tspan class="l">let</tspan> <tspan class="v">top</tspan> <tspan class="o">=</tspan> <tspan class="i">this</tspan><tspan class="o">.</tspan><tspan class="i">top</tspan><tspan class="o">.</tspan><tspan class="v">value</tspan><tspan class="o">;</tspan></text>
<text x="1100.5" y="2801.8"><tspan class="k">return</tspan> <tspan class="v">top</tspan><tspan class="o">;</tspan></text>
<text x="1084.9" y="2821.1"><tspan class="bb">}</tspan><tspan class="k">else</tspan> <tspan class="bb">{</tspan></text>
<text x="1100.5" y="2839.7"><tspan class="k">throw new</tspan> <tspan class="e">Error</tspan> <tspan class="y">(</tspan><tspan class="s">'This is an empty stack'</tspan><tspan class="y">)</tspan><tspan class="o">;</tspan></text>
<text x="1084.9" y="2859" class="bb">}</text>
<text x="1069.3" y="2896.8" class="m">}</text></g>
<g id="button-code-peek-stacks"><rect x="1300.7" y="2740" width="119.7" height="60" class="gbtn"/><text x="1360.5" y="2776.3" class="t18">code</text></g>

<g id="code-isempty-stacks" class="cd"><rect x="1848.5" y="2739.8" width="163" height="138.4" class="cb"/>
<text x="1858.9" y="2756.7"><tspan class="f">isEmpty</tspan> <tspan class="m">(){</tspan></text>
<text x="1874.5" y="2775.3"><tspan class="k">if</tspan> <tspan class="bb">(</tspan><tspan class="i">this</tspan><tspan class="o">.</tspan><tspan class="v">top</tspan><tspan class="bb">){</tspan></text>
<text x="1890.1" y="2794.5"><tspan class="k">return</tspan> <tspan class="n">false</tspan><tspan class="o">;</tspan></text>
<text x="1874.5" y="2813.2"><tspan class="bb">}</tspan><tspan class="k">else</tspan> <tspan class="bb">{</tspan></text>
<text x="1890.1" y="2832.5"><tspan class="k">return</tspan> <tspan class="n">true</tspan><tspan class="o">;</tspan></text>
<text x="1874.5" y="2851.8" class="bb">}</text>
<text x="1858.9" y="2870.3" class="m">}</text></g>
<g id="button-code-isempty-stacks"><rect x="1849" y="2880" width="119" height="60" class="gbtn"/><text x="1908.5" y="2916.3" class="t18">code</text></g>

<g id="code-isempty-queues" class="cd"><rect x="2201" y="2739.8" width="157.9" height="138.4" class="cb"/>
<text x="2206.3" y="2753.9"><tspan class="f">isEmpty</tspan> <tspan class="m">(){</tspan></text>
<text x="2221.9" y="2772.5"><tspan class="k">if</tspan> <tspan class="bb">(</tspan><tspan class="i">this</tspan><tspan class="o">.</tspan><tspan class="v">front</tspan><tspan class="bb">){</tspan></text>
<text x="2237.5" y="2791.8"><tspan class="k">return</tspan> <tspan class="n">true</tspan><tspan class="o">;</tspan></text>
<text x="2221.9" y="2811.1"><tspan class="bb">}</tspan><tspan class="k">else</tspan><tspan class="bb">{</tspan></text>
<text x="2237.5" y="2829.7"><tspan class="k">return</tspan> <tspan class="n">false</tspan><tspan class="o">;</tspan></text>
<text x="2221.9" y="2849" class="bb">}</text>
<text x="2206.3" y="2867.5" class="m">}</text></g>
<g id="button-code-isempty-queues"><rect x="2239.2" y="2880" width="120" height="60" class="grn"/><text x="2299.2" y="2916.3" class="t18">code</text></g>

<g id="code-peek-queues" class="cd"><rect x="2786.3" y="2730" width="375.4" height="138" class="cb"/>
<text x="2793" y="2745.2"><tspan class="f">peek</tspan> <tspan class="m">(){</tspan></text>
<text x="2808.6" y="2764.5"><tspan class="k">if</tspan> <tspan class="bb">(</tspan><tspan class="i">this</tspan><tspan class="o">.</tspan><tspan class="v">front</tspan><tspan class="bb">){</tspan></text>
<text x="2824.2" y="2783.7"><tspan class="k">return</tspan> <tspan class="i">this</tspan><tspan class="o">.</tspan><tspan class="i">front</tspan><tspan class="o">.</tspan><tspan class="v">value</tspan><tspan class="o">;</tspan></text>
<text x="2808.6" y="2802.9"><tspan class="bb">}</tspan><tspan class="k">else</tspan> <tspan class="bb">{</tspan></text>
<text x="2824.2" y="2822.1"><tspan class="k">throw new</tspan> <tspan class="e">Error</tspan> <tspan class="y">(</tspan><tspan class="s">'This is an empty queue'</tspan><tspan class="y">)</tspan><tspan class="o">;</tspan></text>
<text x="2808.6" y="2841.4" class="bb">}</text>
<text x="2793" y="2860.5" class="m">}</text></g>
<g id="button-code-peek-queues"><rect x="3030" y="2740.7" width="120.5" height="59.3" class="grn"/><text x="3090.2" y="2776.6" class="t18">code</text></g>

<g id="code-enqueue" class="cd"><rect x="2804" y="210.4" width="283.9" height="317.6" class="cb"/>
<text x="2813.8" y="224.1"><tspan class="f">enqueue</tspan> <tspan class="m">(</tspan><tspan class="v">value</tspan><tspan class="m">){</tspan></text>
<text x="2829.4" y="243.2"><tspan class="l">let</tspan> <tspan class="v">newNode</tspan> <tspan class="o">=</tspan> <tspan class="k">new</tspan> <tspan class="f">Node</tspan> <tspan class="bb">(</tspan><tspan class="v">value</tspan><tspan class="bb">)</tspan><tspan class="o">;</tspan></text>
<text x="2829.4" y="261.5"><tspan class="i">this</tspan><tspan class="o">.</tspan><tspan class="v">length</tspan> <tspan class="o">=</tspan> <tspan class="i">this</tspan><tspan class="o">.</tspan><tspan class="v">length</tspan> <tspan class="o">+</tspan> <tspan class="n">1</tspan> <tspan class="o">;</tspan></text>
<text x="2829.4" y="280.7"><tspan class="k">if</tspan> <tspan class="bb">(</tspan><tspan class="i">this</tspan><tspan class="o">.</tspan><tspan class="v">front</tspan><tspan class="bb">){</tspan></text>
<text x="2845" y="299.8"><tspan class="k">if</tspan> <tspan class="y">(</tspan><tspan class="o">!</tspan><tspan class="i">this</tspan><tspan class="o">.</tspan><tspan class="v">rear</tspan><tspan class="y">){</tspan></text>
<text x="2860.6" y="318.9"><tspan class="i">this</tspan><tspan class="o">.</tspan><tspan class="v">rear</tspan> <tspan class="o">=</tspan> <tspan class="v">newNode</tspan><tspan class="o">;</tspan></text>
<text x="2860.6" y="338.1"><tspan class="i">this</tspan><tspan class="o">.</tspan><tspan class="i">front</tspan><tspan class="o">.</tspan><tspan class="v">next</tspan> <tspan class="o">=</tspan> <tspan class="i">this</tspan><tspan class="o">.</tspan><tspan class="v">rear</tspan><tspan class="o">;</tspan></text>
<text x="2845" y="357.2"><tspan class="y">}</tspan><tspan class="k">else</tspan> <tspan class="y">{</tspan></text>
<text x="2860.6" y="375.5"><tspan class="i">this</tspan><tspan class="o">.</tspan><tspan class="i">rear</tspan><tspan class="o">.</tspan><tspan class="v">next</tspan> <tspan class="o">=</tspan> <tspan class="v">newNode</tspan><tspan class="o">;</tspan></text>
<text x="2860.6" y="394.7"><tspan class="i">this</tspan><tspan class="o">.</tspan><tspan class="v">rear</tspan> <tspan class="o">=</tspan> <tspan class="v">newNode</tspan><tspan class="o">;</tspan></text>
<text x="2845" y="413.8" class="y">}</text>
<text x="2829.4" y="432.9"><tspan class="bb">}</tspan><tspan class="k">else</tspan> <tspan class="bb">{</tspan></text>
<text x="2845" y="451.3"><tspan class="i">this</tspan><tspan class="o">.</tspan><tspan class="v">front</tspan> <tspan class="o">=</tspan> <tspan class="v">newNode</tspan><tspan class="o">;</tspan></text>
<text x="2845" y="470.5"><tspan class="i">this</tspan><tspan class="o">.</tspan><tspan class="v">rear</tspan> <tspan class="o">=</tspan> <tspan class="i">this</tspan><tspan class="o">.</tspan><tspan class="i">front</tspan><tspan class="o">.</tspan><tspan class="v">next</tspan><tspan class="o">;</tspan></text>
<text x="2829.4" y="489.5" class="bb">}</text>
<text x="2813.8" y="508.7" class="m">}</text></g>
<g id="button-code-enqueue"><rect x="2967.3" y="150.7" width="121.4" height="59.7" class="grn"/><text x="3028" y="186.8" class="t18">code</text></g>

<g id="code-dequeue" class="cd"><rect x="3830" y="1544.7" width="375.5" height="230.3" class="cb"/><line x1="3830" y1="1545.2" x2="4205.5" y2="1545.2" stroke="#5a5a5a" stroke-width="1.5"/>
<text x="3838.2" y="1556.5"><tspan class="f">dequeue</tspan> <tspan class="m">(){</tspan></text>
<text x="3853.8" y="1575.2"><tspan class="k">if</tspan> <tspan class="bb">(</tspan><tspan class="i">this</tspan><tspan class="o">.</tspan><tspan class="v">front</tspan><tspan class="bb">){</tspan></text>
<text x="3869.4" y="1594.2"><tspan class="i">this</tspan><tspan class="o">.</tspan><tspan class="v">length</tspan> <tspan class="o">=</tspan> <tspan class="i">this</tspan><tspan class="o">.</tspan><tspan class="v">length</tspan> <tspan class="n">-1</tspan><tspan class="o">;</tspan></text>
<text x="3869.4" y="1632.2"><tspan class="l">let</tspan> <tspan class="v">current</tspan> <tspan class="o">=</tspan> <tspan class="i">this</tspan><tspan class="o">.</tspan><tspan class="v">front</tspan><tspan class="o">;</tspan></text>
<text x="3869.4" y="1651.2"><tspan class="i">this</tspan><tspan class="o">.</tspan><tspan class="v">front</tspan> <tspan class="o">=</tspan> <tspan class="i">this</tspan><tspan class="o">.</tspan><tspan class="i">front</tspan><tspan class="o">.</tspan><tspan class="v">next</tspan><tspan class="o">;</tspan></text>
<text x="3869.4" y="1670.2"><tspan class="i">current</tspan><tspan class="o">.</tspan><tspan class="v">next</tspan> <tspan class="o">=</tspan> <tspan class="n">null</tspan><tspan class="o">;</tspan></text>
<text x="3869.4" y="1689.5"><tspan class="k">return</tspan> <tspan class="i">current</tspan><tspan class="o">.</tspan><tspan class="v">value</tspan><tspan class="o">;</tspan></text>
<text x="3853.8" y="1708.5"><tspan class="bb">}</tspan><tspan class="k">else</tspan> <tspan class="bb">{</tspan></text>
<text x="3869.4" y="1727.5"><tspan class="k">throw new</tspan> <tspan class="e">Error</tspan> <tspan class="y">(</tspan><tspan class="s">'This is an empty queue'</tspan><tspan class="y">)</tspan><tspan class="o">;</tspan></text>
<text x="3853.8" y="1746.8" class="bb">}</text>
<text x="3838.2" y="1766.2" class="m">}</text></g>
<g id="button-code-dequeue"><rect x="4130" y="1615.3" width="121" height="60.4" class="grn"/><text x="4190.5" y="1651.8" class="t18">code</text></g>

<g id="overlapped-label" font-family="Liberation Sans, Arial, sans-serif" font-size="11" font-weight="bold" fill="#000">
<text x="2008.5" y="2911.8" textLength="217" lengthAdjust="spacingAndGlyphs">4. increase the length of the queue by one</text>
<text x="2008.5" y="2911.8" textLength="217" lengthAdjust="spacingAndGlyphs">4. make the rear point to the new node one</text>
</g>
</g>
</svg>
